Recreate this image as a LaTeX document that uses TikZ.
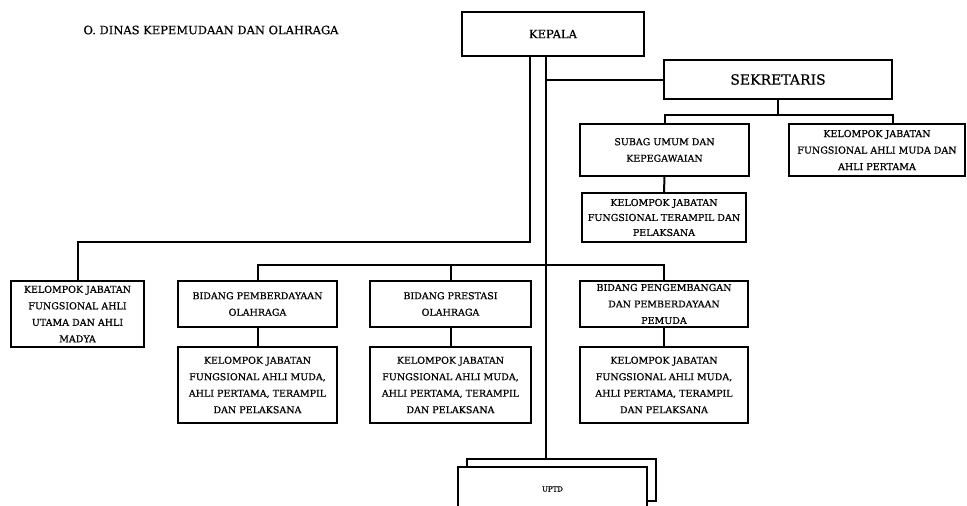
\documentclass[tikz,border=0pt]{standalone}
\usepackage{fontspec}
\setmainfont{DejaVu Serif}[FakeBold=0.6]
\begin{document}
\begin{tikzpicture}[x=1pt, y=-1pt,
    every node/.style = {align=center, inner sep=1pt},
    unit/.style = {shape=rectangle, draw, line width=1.8pt, fill=white,
      font=\fontsize{9.5}{16.5}\selectfont},
    bidang/.style = {unit, minimum height=46},
    kelompok/.style = {unit, minimum height=76},
    link/.style = {line width=2pt}]
  \clip (0,0) rectangle (967,506);
  \node[font=\fontsize{11.5}{14}\selectfont] (judul) at (211,30) {O. DINAS KEPEMUDAAN DAN OLAHRAGA};
  \node[unit, line width=1.2pt, minimum width=182, minimum height=44, font=\fontsize{11.5}{14}\selectfont] (kepala) at (553,34) {KEPALA};
  \node[unit, minimum width=228, minimum height=39, font=\fontsize{14}{16}\selectfont] (sekretaris) at (778,79.5) {SEKRETARIS};
  \node[unit, minimum width=169, minimum height=52] (subag) at (664.5,150) {SUBAG UMUM DAN\\KEPEGAWAIAN};
  \node[unit, minimum width=176, minimum height=52] (kjmuda) at (877,150) {KELOMPOK JABATAN\\FUNGSIONAL AHLI MUDA DAN\\AHLI PERTAMA};
  \node[unit, minimum width=164, minimum height=49, font=\fontsize{9.5}{15}\selectfont] (kjterampil) at (664,217.5) {KELOMPOK JABATAN\\FUNGSIONAL TERAMPIL DAN\\PELAKSANA};
  \node[unit, minimum width=133, minimum height=66] (kjutama) at (77.5,314) {KELOMPOK JABATAN\\FUNGSIONAL AHLI\\UTAMA DAN AHLI\\MADYA};
  \node[bidang, minimum width=159] (bpo) at (257.5,304) {BIDANG PEMBERDAYAAN\\OLAHRAGA};
  \node[bidang, minimum width=161] (bpr) at (450.5,304) {BIDANG PRESTASI\\OLAHRAGA};
  \node[bidang, minimum width=168] (bpp) at (664,304) {BIDANG PENGEMBANGAN\\DAN PEMBERDAYAAN\\PEMUDA};
  \node[kelompok, minimum width=159] (kjbpo) at (257.5,385) {KELOMPOK JABATAN\\FUNGSIONAL AHLI MUDA,\\AHLI PERTAMA, TERAMPIL\\DAN PELAKSANA};
  \node[kelompok, minimum width=161] (kjbpr) at (450.5,385) {KELOMPOK JABATAN\\FUNGSIONAL AHLI MUDA,\\AHLI PERTAMA, TERAMPIL\\DAN PELAKSANA};
  \node[kelompok, minimum width=168] (kjbpp) at (664,385) {KELOMPOK JABATAN\\FUNGSIONAL AHLI MUDA,\\AHLI PERTAMA, TERAMPIL\\DAN PELAKSANA};
  \node[unit, line width=1.2pt, minimum width=189, minimum height=42] (uptdbelakang) at (561.5,480) {};
  \node[unit, line width=1.2pt, minimum width=189, minimum height=44, font=\fontsize{7}{8}\selectfont] (uptd) at (552.5,489) {UPTD};

  \coordinate (mainline) at ([xshift=-7pt]kepala.south);
  \coordinate (leftline) at ([xshift=-23pt]kepala.south);
  \coordinate (sekbus) at ([yshift=-15pt]sekretaris.south);
  \coordinate (bidbus) at ([yshift=15pt]bpo.north);
  \draw[link] (mainline) -- (mainline |- uptdbelakang.north);
  \draw[link] (mainline |- sekretaris.west) -- (sekretaris.west);
  \draw[link] (leftline) |- ([yshift=38pt]kjutama.north) -- (kjutama.north);
  \draw[link] (sekretaris.south) -- (sekbus);
  \draw[link] (subag.north) |- (sekretaris.south east |- sekbus) -- (sekretaris.south east |- kjmuda.north);
  \draw[link] (subag) -- (kjterampil);
  \draw[link] (bpo.north) |- (bpp.north |- bidbus) -- (bpp.north);
  \draw[link] (bpr.north) -- (bpr.north |- bidbus);
  \draw[link] (bpo) -- (kjbpo);
  \draw[link] (bpr) -- (kjbpr);
  \draw[link] (bpp) -- (kjbpp);
\end{tikzpicture}
\end{document}
